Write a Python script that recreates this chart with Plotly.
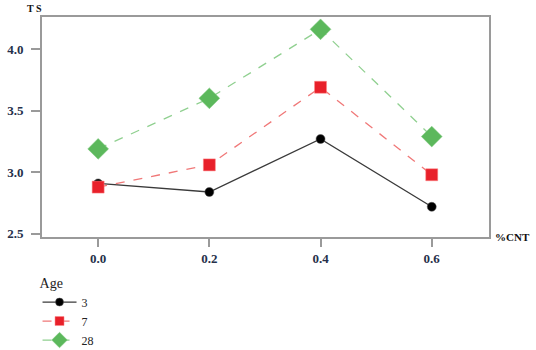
import plotly.graph_objects as go

cnt = [0.0, 0.2, 0.4, 0.6]
ages = ["3", "7", "28"]
ts_age3 = [2.91, 2.84, 3.27, 2.72]
ts_age7 = [2.88, 3.06, 3.69, 2.98]
ts_age28 = [3.19, 3.60, 4.16, 3.29]

x_ticks = [0.0, 0.2, 0.4, 0.6]
x_tick_text = ["0.0", "0.2", "0.4", "0.6"]
y_ticks = [2.5, 3.0, 3.5, 4.0]
y_tick_text = ["2.5", "3.0", "3.5", "4.0"]

serif = "Liberation Serif"
label_color = "#26304a"
axis_gray = "#9a9a9a"

series = [
    dict(name=ages[0], y=ts_age3,
         line=dict(color="#3a3a3a", width=1.3),
         symbol="circle", size=9, legend_size=8, color="#000000", edge="#555555"),
    dict(name=ages[1], y=ts_age7,
         line=dict(color="#f07878", width=1.3, dash="dash"),
         symbol="square", size=12, legend_size=9, color="#e8202a", edge="#ff8888"),
    dict(name=ages[2], y=ts_age28,
         line=dict(color="#90d090", width=1.3, dash="dash"),
         symbol="diamond", size=16, legend_size=12, color="#5cb85c", edge="#7cc87c"),
]

fig = go.Figure()
for s in series:
    # data trace
    fig.add_trace(go.Scatter(
        x=cnt, y=s["y"], name=s["name"], mode="lines+markers",
        legendgroup=s["name"], showlegend=False,
        line=s["line"],
        marker=dict(symbol=s["symbol"], size=s["size"], color=s["color"],
                    line=dict(color=s["edge"], width=0.5)),
    ))
    # legend key with a smaller marker
    fig.add_trace(go.Scatter(
        x=[None], y=[None], name=s["name"], mode="lines+markers",
        legendgroup=s["name"], showlegend=True,
        line=s["line"],
        marker=dict(symbol=s["symbol"], size=s["legend_size"], color=s["color"],
                    line=dict(color=s["edge"], width=0.5)),
    ))

fig.update_layout(
    width=536, height=350,
    margin=dict(l=42, r=47, t=17, b=113, autoexpand=False),
    paper_bgcolor="white", plot_bgcolor="white",
    font=dict(family=serif, color=label_color, size=13),
    showlegend=True,
    legend=dict(
        title=dict(text="Age", font=dict(family=serif, size=14, color="#222222")),
        x=-0.01, xanchor="left", y=-0.147, yanchor="top",
        font=dict(family=serif, size=12, color="#222222"),
        tracegroupgap=0, itemwidth=34,
        bgcolor="rgba(0,0,0,0)",
    ),
    xaxis=dict(
        range=[-0.101, 0.703], tickvals=x_ticks, ticktext=x_tick_text,
        showgrid=False, zeroline=False,
        showline=True, linecolor=axis_gray, linewidth=2, mirror=True,
        ticks="outside", ticklen=8, tickcolor=axis_gray, tickwidth=1.5,
        tickfont=dict(family=serif, size=13, color=label_color, weight="bold"),
    ),
    yaxis=dict(
        range=[2.475, 4.26], tickvals=y_ticks, ticktext=y_tick_text,
        showgrid=False, zeroline=False,
        showline=True, linecolor=axis_gray, linewidth=2, mirror=True,
        ticks="outside", ticklen=9, tickcolor=axis_gray, tickwidth=1.5,
        ticklabelstandoff=5,
        tickfont=dict(family=serif, size=13, color=label_color, weight="bold"),
    ),
    annotations=[
        dict(text="<b>T S</b>", xref="paper", yref="paper", x=-0.016, y=1.005,
             xanchor="center", yanchor="bottom", showarrow=False,
             font=dict(family=serif, size=10, color="#111111")),
        dict(text="<b>%CNT</b>", xref="paper", yref="paper", x=1.008, y=0.0,
             xanchor="left", yanchor="middle", showarrow=False,
             font=dict(family=serif, size=11, color="#111111")),
    ],
)

fig.write_html("out.html")
